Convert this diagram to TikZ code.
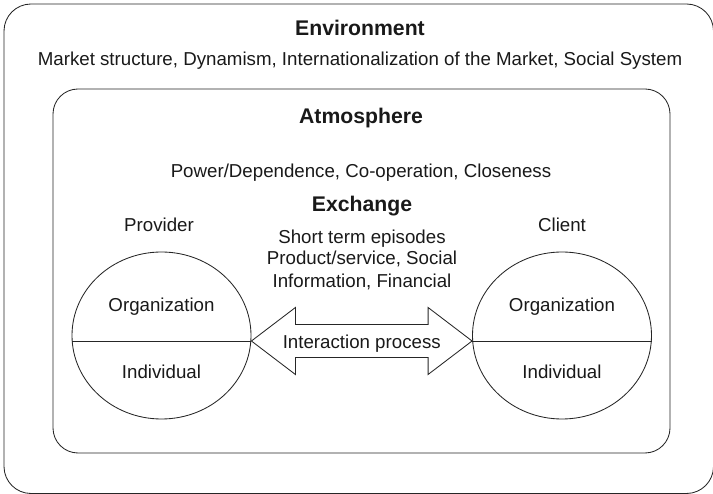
\documentclass[tikz,border=0pt]{standalone}
\usepackage{fontspec}
\setmainfont{Liberation Sans}
\usetikzlibrary{shapes, calc}

\begin{document}
\begin{tikzpicture}[x=1pt,y=-1pt,line width=0.85pt,draw=black!85,
      head node/.style={anchor=base,text=black!90,font=\fontsize{21.2}{25}\selectfont\bfseries},
      text node/.style={anchor=base,text=black!90,font=\fontsize{18.7}{22}\selectfont},
      side node/.style={ellipse,draw,minimum width=179pt,minimum height=167pt,inner sep=0pt}]

    \useasboundingbox (0,0) rectangle (713,494);
    \clip (0,0) rectangle (713,494);

    % environment and atmosphere frames
    \draw[rounded corners=27pt] (4,4) rectangle (713.5,493.5);
    \draw[rounded corners=25pt] (53,89) rectangle (670,453);

    \node[head node] (env) at (360,36) {Environment};
    \node[text node] (envtext) at (360,66) {Market structure, Dynamism, Internationalization of the Market, Social System};
    \node[head node] (atm) at (361,124) {Atmosphere};
    \node[text node] (atmtext) at (361,178) {Power/Dependence, Co-operation, Closeness};
    \node[head node] (exc) at (362,212) {Exchange};
    \node[text node] (exc1) at (362,244) {Short term episodes};
    \node[text node] (exc2) at (362,265) {Product/service, Social};
    \node[text node] (exc3) at (362,288) {Information, Financial};

    % the two parties
    \node[side node] (prov) at (161.5,335.5) {};
    \node[side node] (cli) at (562,335.5) {};
    \draw ([yshift=-5.5pt]prov.west) -- ([yshift=-5.5pt]prov.east);
    \draw ([yshift=-5.5pt]cli.west) -- ([yshift=-5.5pt]cli.east);

    \node[text node] (provname) at (159,232) {Provider};
    \node[text node] (cliname) at (562,232) {Client};
    \node[text node] (provorg) at (161.5,312) {Organization};
    \node[text node] (provind) at (161.5,379) {Individual};
    \node[text node] (cliorg) at (562,312) {Organization};
    \node[text node] (cliind) at (562,379) {Individual};

    % interaction arrow
    \coordinate (a) at ([yshift=-5.5pt]prov.east);
    \coordinate (b) at ([yshift=-5.5pt]cli.west);
    \draw[line join=miter] (a) -- ++(44,-33.5) -- ++(0,17) -- ($(b)+(-44,-16.5)$) -- ++(0,-17) -- (b)
        -- ++(-44,33.5) -- ++(0,-17) -- ($(a)+(44,16.5)$) -- ++(0,17) -- cycle;
    \node[text node] (inter) at ($(a)!0.5!(b)+(0,8)$) {Interaction process};
\end{tikzpicture}
\end{document}
